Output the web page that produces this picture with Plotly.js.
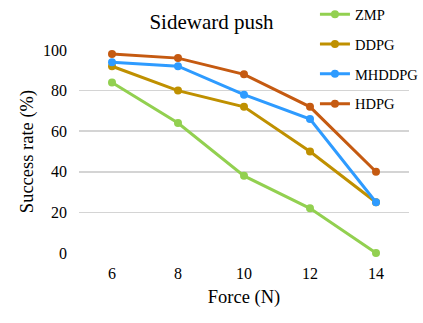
<!DOCTYPE html>
<html>
<head>
<meta charset="utf-8">
<script src="https://cdn.plot.ly/plotly-3.0.1.min.js"></script>
<style>
  html, body { margin: 0; padding: 0; background: #fff; }
  #chart { width: 423px; height: 323px; }
</style>
</head>
<body>
<div id="chart"></div>
<script>
// Values
const forces = [6, 8, 10, 12, 14];
const zmp = [84, 64, 38, 22, 0];
const ddpg = [92, 80, 72, 50, 25];
const mhddpg = [94, 92, 78, 66, 25];
const hdpg = [98, 96, 88, 72, 40];
const yTicks = [0, 20, 40, 60, 80, 100];

const seriesNames = ['ZMP', 'DDPG', 'MHDDPG', 'HDPG'];
const seriesColors = ['#92d050', '#bf9000', '#2e9bff', '#c55a11'];
const seriesValues = [zmp, ddpg, mhddpg, hdpg];

const FONT = 'Liberation Serif';

const traces = seriesValues.map((vals, i) => ({
    x: forces,
    y: vals,
    name: seriesNames[i],
    legendgroup: seriesNames[i],
    type: 'scatter',
    mode: 'lines+markers',
    line: { color: seriesColors[i], width: 3 },
    marker: { color: seriesColors[i], size: 8 },
    cliponaxis: false
}));

const layout = {
    width: 423,
    height: 323,
    font: { family: FONT, color: '#000', size: 15 },
    margin: { l: 79, r: 14, t: 50, b: 70, autoexpand: false },
    title: {
        text: 'Sideward push',
        font: { family: FONT, size: 21, color: '#000' },
        x: 0.5,
        xanchor: 'center',
        y: 1 - 22 / 323,
        yanchor: 'middle'
    },
    xaxis: {
        range: [5, 15],
        tickmode: 'array',
        tickvals: forces,
        ticktext: forces.map(String),
        showgrid: false,
        zeroline: false,
        ticklabelstandoff: 9,
        tickfont: { family: FONT, size: 16, color: '#000' },
        title: { text: 'Force (N)', font: { family: FONT, size: 18.5, color: '#000' }, standoff: 9 }
    },
    yaxis: {
        range: [0, 100],
        tickmode: 'array',
        tickvals: yTicks,
        ticktext: yTicks.map(String),
        showgrid: true,
        gridcolor: '#d4d4d4',
        gridwidth: 1.5,
        zeroline: false,
        ticklabelstandoff: 11,
        tickfont: { family: FONT, size: 16, color: '#000' },
        title: { text: 'Success rate (%)', font: { family: FONT, size: 18.5, color: '#000' }, standoff: 4 }
    },
    showlegend: true,
    legend: {
        x: 0.715,
        xanchor: 'left',
        y: 1.255,
        yanchor: 'top',
        bgcolor: 'rgba(0,0,0,0)',
        font: { family: FONT, size: 14.5, color: '#000' },
        tracegroupgap: 8,
        itemwidth: 30
    }
};

Plotly.newPlot('chart', traces, layout, { displayModeBar: false, staticPlot: true });
</script>
</body>
</html>
